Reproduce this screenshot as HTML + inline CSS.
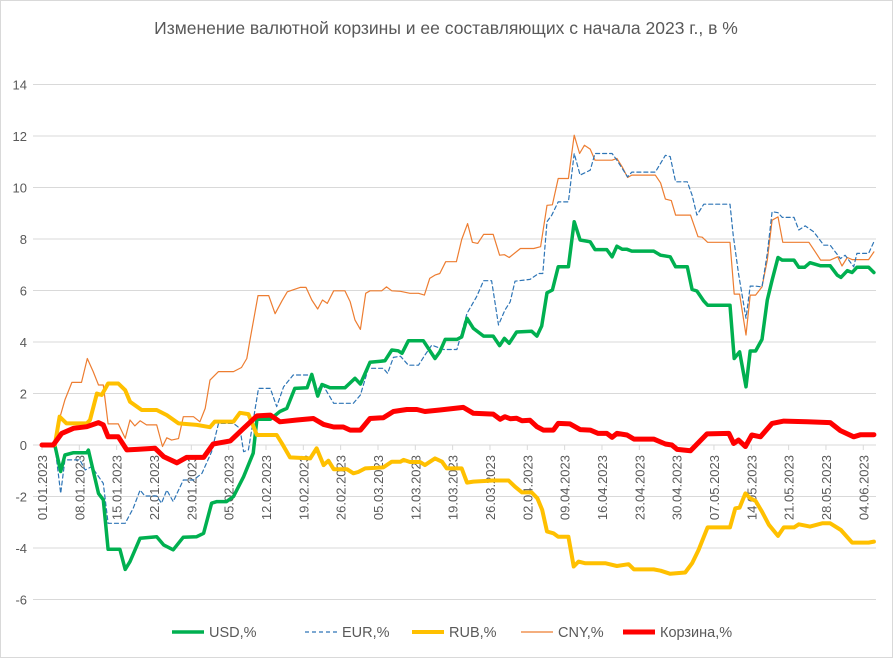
<!DOCTYPE html>
<html><head><meta charset="utf-8"><style>
html,body{margin:0;padding:0;background:#fff}
svg{display:block;font-family:"Liberation Sans","DejaVu Sans",sans-serif}
</style></head><body>
<svg id="chart" width="893" height="658" viewBox="0 0 893 658">
<rect x="0.5" y="0.5" width="892" height="657" fill="#fff" stroke="#d9d9d9"/>
<text x="446" y="34" text-anchor="middle" font-size="17.5" fill="#595959">Изменение валютной корзины и ее составляющих с начала 2023 г., в %</text>
<g id="grid"></g>
<g id="yaxis"></g>
<g id="xaxis"></g>
<g id="series"></g>
<g id="legend"></g>
</svg>
<script>
const yTicks=[14,12,10,8,6,4,2,0,-2,-4,-6];
const xTickDays=[0,7,14,21,28,35,42,49,56,63,70,77,84,91,98,105,112,119,126,133,140,147,154];
const xTickLabels=["01.01.2023","08.01.2023","15.01.2023","22.01.2023","29.01.2023","05.02.2023","12.02.2023","19.02.2023","26.02.2023","05.03.2023","12.03.2023","19.03.2023","26.03.2023","02.04.2023","09.04.2023","16.04.2023","23.04.2023","30.04.2023","07.05.2023","14.05.2023","21.05.2023","28.05.2023","04.06.2023"];

const usdDays=[0,2.4,3.5,4.3,5.9,8.4,8.7,10.6,11.5,12.4,14.6,15.6,16.5,18.4,21.5,22.8,24.6,26.5,29,30.3,31.8,32.8,34.6,35.9,37.8,39.6,40.3,42.8,44.6,45.9,47.4,49.7,50.6,51.7,52.5,54,56.8,58.7,59.7,61.5,64.3,65.6,66.8,67.5,68.7,71.5,73.7,74.6,75.6,77.8,78.7,79.7,80.9,82.8,84.6,85.8,86.7,87.6,89,91.8,92.8,93.7,94.7,95.7,96.8,98.7,99.8,100.9,102.8,103.7,105.9,106.9,107.8,108.8,109.7,110.6,114.7,116,117.8,118.8,121,121.9,122.8,124.1,124.8,129,129.8,130.8,132,132.8,133.8,135,136,136.9,138,138.8,141,141.9,143,144,146,147.8,149.1,149.8,151,151.9,152.8,155,156];
const usdVals=[0,0,-1.03,-0.39,-0.3,-0.3,-0.2,-1.88,-2.13,-4.05,-4.05,-4.83,-4.53,-3.62,-3.56,-3.88,-4.07,-3.58,-3.56,-3.43,-2.26,-2.2,-2.2,-2,-1.23,-0.32,1.0,1.0,1.3,1.42,2.2,2.22,2.74,1.9,2.35,2.22,2.22,2.59,2.37,3.21,3.27,3.69,3.66,3.56,4.05,4.05,3.36,3.62,4.1,4.1,4.2,4.92,4.53,4.23,4.23,3.86,4.14,3.95,4.39,4.42,4.23,4.62,5.91,6.02,6.92,6.92,8.67,7.96,7.89,7.59,7.59,7.31,7.72,7.6,7.6,7.53,7.53,7.37,7.31,6.92,6.92,6.04,5.98,5.59,5.43,5.43,3.36,3.62,2.26,3.65,3.65,4.1,5.63,6.4,7.28,7.18,7.18,6.9,6.9,7.08,6.96,6.96,6.6,6.51,6.77,6.7,6.9,6.9,6.7];

const eurDays=[0,2.4,3.5,4.3,5.6,7.1,8.1,9.3,11.5,12.4,15.6,17.1,18.4,19.3,21.5,22.4,23.4,24.6,26.5,28.4,30,31.8,33.1,35.9,37.1,37.8,38.7,40.6,42.8,44,45.3,47.1,50.3,51.5,52.5,54.7,58.4,59.7,61.2,64,64.8,65.9,67.2,68.7,70.6,71.8,73.1,75.3,77.8,79.7,81.5,82.8,84.3,85.6,86.8,87.8,88.7,91.5,93.1,93.9,94.7,95.6,96.8,98.7,99.8,100.9,102.8,103.7,106.9,107.8,109.8,110.6,115,116.9,117.8,118.8,121,121.9,122.8,124.1,129,129.6,130.6,132,132.8,133.8,135,136,136.9,138,138.8,141,141.9,143.1,144.7,146.6,147.8,149.7,150.6,152.2,152.8,155,156];
const eurVals=[0,0,-1.88,-0.58,-0.58,-0.58,-0.97,-0.84,-1.49,-3.04,-3.04,-2.46,-1.75,-1.98,-1.98,-2.26,-1.75,-2.2,-1.36,-1.36,-1.1,-0.26,0.84,0.84,0.65,-0.26,-0.19,2.2,2.2,1.49,2.26,2.72,2.72,2.07,2.39,1.62,1.62,1.94,2.98,2.98,2.78,3.4,3.45,3.1,3.1,3.49,3.88,3.71,3.71,5.11,5.76,6.38,6.38,4.66,5.24,5.56,6.36,6.43,6.66,6.66,8.67,8.93,9.44,9.44,11.32,10.48,10.67,11.32,11.32,11.06,10.41,10.6,10.6,11.25,11.2,10.22,10.22,9.7,8.93,9.35,9.35,8.15,6.66,4.92,6.17,6.17,6.14,7.44,9.06,9.02,8.84,8.84,8.35,8.51,8.28,7.76,7.76,7.24,7.37,6.92,7.44,7.44,7.89];

const rubDays=[0,2.4,3.3,4.6,8.4,9,10.3,11.2,12.4,14.3,15.6,16.5,18.7,21.5,23.4,25.6,29,31.5,32.4,35.9,37.1,38.7,40.3,44,45,46.5,50.3,51.5,52.8,53.7,54.7,57.2,58.4,59.3,60.6,64,65.6,67.2,67.8,69,70.9,71.8,73.7,75,75.9,78.7,79.7,80.9,84.6,87.5,88.7,90,91.8,92.9,93.8,94.7,95.9,96.8,98.7,99.7,100.6,101.8,105.6,107.8,110,111,114.7,116,117.8,120.6,121.9,123.1,124.8,129,130,130.8,131.9,132.8,133.8,135,136.3,138,139.1,141,141.9,144,146.3,147.8,149.8,151.9,155,156];
const rubVals=[0,0,1.1,0.84,0.84,0.97,2.0,1.94,2.39,2.39,2.13,1.68,1.36,1.36,1.16,0.84,0.78,0.69,0.91,0.91,1.25,1.2,0.39,0.39,0.06,-0.48,-0.52,-0.13,-0.78,-0.61,-0.94,-0.94,-1.1,-1.05,-0.91,-0.87,-0.65,-0.65,-0.58,-0.66,-0.66,-0.78,-0.52,-0.65,-0.91,-0.91,-1.46,-1.42,-1.38,-1.38,-1.62,-1.84,-1.84,-2.07,-2.52,-3.36,-3.43,-3.56,-3.56,-4.72,-4.53,-4.59,-4.59,-4.7,-4.63,-4.83,-4.83,-4.88,-5.0,-4.95,-4.59,-4.08,-3.2,-3.2,-2.46,-2.43,-1.88,-2.07,-2.17,-2.59,-3.1,-3.53,-3.2,-3.2,-3.08,-3.17,-3.04,-3.04,-3.3,-3.79,-3.79,-3.75];

const cnyDays=[0,2.4,3.4,4.3,5.6,7.4,8.5,9.6,10.6,11.5,12.4,14.3,15.6,16.5,17.4,18.4,19.6,21.5,22.6,23.4,24.3,25.6,26.5,28.4,29.6,30.6,31.5,33.1,35.9,37.4,38.4,39,40.5,42.5,43.7,45,46,48.4,49.5,50.6,51.7,52.6,53.5,54.7,56.8,57.8,58.7,59.7,60.7,61.5,63.7,64.6,65.6,67.2,69,70.6,71.7,72.7,73.7,74.6,75.7,77.7,78.7,79.8,80.7,81.7,82.8,84.6,85.8,86.7,87.6,89.7,92.2,93.5,94.7,95.7,96.8,98.7,99.8,100.8,101.7,102.8,103.7,106.9,107.8,108.8,109.8,110.6,115,116,116.9,118,118.8,121.6,123,123.8,124.8,129,129.8,130.8,132,132.8,133.8,135,136,136.9,138,138.9,143.8,145,146,147.8,149.2,150,151,151.9,155,156];
const cnyVals=[0,0,1.1,1.75,2.43,2.43,3.36,2.85,2.33,2.33,0.82,0.82,0.26,0.97,0.74,0.94,0.78,0.78,-0.06,0.28,0.19,0.25,1.1,1.1,0.9,1.42,2.52,2.85,2.85,3.01,3.36,4.08,5.8,5.8,5.1,5.6,5.95,6.12,6.12,5.63,5.28,5.63,5.5,5.99,5.99,5.56,4.85,4.49,5.89,5.99,5.99,6.14,5.99,5.97,5.89,5.89,5.82,6.47,6.6,6.66,7.12,7.12,7.98,8.6,7.87,7.83,8.18,8.18,7.37,7.39,7.28,7.63,7.63,7.7,9.31,9.33,10.35,10.35,12.03,11.32,11.64,11.49,11.06,11.06,11.13,10.8,10.39,10.48,10.48,10.18,9.55,9.49,8.93,8.93,8.09,8.07,7.87,7.87,5.86,5.86,4.27,5.82,5.82,6.14,7.18,8.73,8.86,7.87,7.87,7.5,7.18,7.18,7.31,6.95,7.28,7.2,7.2,7.5];

const basketDays=[0,2.1,3.7,5.9,8.4,10.6,11.5,12.4,14.3,15.9,17.8,21.2,22.8,25.3,27.1,30.3,32.1,35.3,37.8,40.3,42.8,44.6,47.8,50.9,52.8,54.7,56.5,57.8,59.7,61.5,64,65.9,68.4,70.3,71.8,74.6,79,80.9,84.6,85.9,86.8,87.8,89,90,91.5,92.8,94,95.9,96.8,99,100.9,102.8,104.3,105.9,106.9,107.8,109.7,111,114.7,116.9,118.1,119.1,121.6,124.7,128.8,129.7,130.6,131.9,133.1,134.7,136.9,139.1,143.5,147.8,149.7,152.2,153.5,156];
const basketVals=[0,0,0.45,0.65,0.71,0.87,0.78,0.32,0.32,-0.19,-0.17,-0.13,-0.45,-0.69,-0.48,-0.48,0.04,0.16,0.65,1.13,1.16,0.9,0.97,1.03,0.8,0.7,0.7,0.58,0.58,1.03,1.06,1.3,1.38,1.38,1.3,1.36,1.46,1.23,1.2,1.0,1.1,1.02,1.04,0.94,0.96,0.71,0.58,0.58,0.84,0.82,0.6,0.58,0.45,0.45,0.3,0.45,0.39,0.23,0.23,0.04,0,-0.17,-0.22,0.43,0.45,0.06,0.19,-0.06,0.39,0.32,0.84,0.93,0.9,0.87,0.56,0.32,0.4,0.4];

const NS="http://www.w3.org/2000/svg";
const X0=42,PX_PER_DAY=5.333,Y0=445,PX_PER_UNIT=25.75;
function xScale(d){return X0+d*PX_PER_DAY;}
function yScale(v){return Y0-v*PX_PER_UNIT;}
function mk(tag,attrs,parent){const e=document.createElementNS(NS,tag);for(const k in attrs)e.setAttribute(k,attrs[k]);parent.appendChild(e);return e;}

const grid=document.getElementById('grid'),yax=document.getElementById('yaxis'),xax=document.getElementById('xaxis'),ser=document.getElementById('series'),leg=document.getElementById('legend');
yTicks.forEach(v=>{
  const y=yScale(v);
  const l=mk('line',{x1:33,x2:876,y1:y,y2:y,stroke:'#d9d9d9','stroke-width':1},grid);
  
  
  const t=mk('text',{x:27,y:y+5,'text-anchor':'end','font-size':13,fill:'#595959'},yax);
  t.textContent=v;
  
  
});
xTickDays.forEach((d,i)=>{
  const x=xScale(d);
  const tk=mk('line',{x1:x,x2:x,y1:Y0,y2:Y0+5,stroke:'#d9d9d9'},xax);
  
  
  const t=mk('text',{x:0,y:0,'text-anchor':'end','font-size':13,fill:'#595959',transform:`translate(${x+5},${Y0+10}) rotate(-90)`},xax);
  t.textContent=xTickLabels[i];
  
  
});
function drawLine(days,vals,color,w,dash,name){
  const pts=days.map((d,i)=>xScale(d).toFixed(1)+','+yScale(vals[i]).toFixed(1)).join(' ');
  const p=mk('polyline',{points:pts,fill:'none',stroke:color,'stroke-width':w,'stroke-linejoin':'round','stroke-linecap':'round'},ser);
  if(dash)p.setAttribute('stroke-dasharray',dash);
  
  
}
drawLine(cnyDays,cnyVals,'#ed7d31',1.2,null,'series-cny');
drawLine(eurDays,eurVals,'#2e75b6',1.2,'4,3','series-eur');
drawLine(usdDays,usdVals,'#00b050',3.5,null,'series-usd');
drawLine(rubDays,rubVals,'#ffc000',4,null,'series-rub');
drawLine(basketDays,basketVals,'#ff0000',5,null,'series-basket');

const legendItems=[["USD,%","#00b050",3.5,null,172],["EUR,%","#2e75b6",1.2,"4,3",305],["RUB,%","#ffc000",4,null,412],["CNY,%","#ed7d31",1.2,null,521],["Корзина,%","#ff0000",5,null,623]];
legendItems.forEach(it=>{
  const g=mk('g',{},leg);
  
  
  const l=mk('line',{x1:it[4],x2:it[4]+32,y1:632,y2:632,stroke:it[1],'stroke-width':it[2]},g);
  if(it[3])l.setAttribute('stroke-dasharray',it[3]);
  const t=mk('text',{x:it[4]+37,y:637,'font-size':14.5,fill:'#595959'},g);
  t.textContent=it[0];
});
</script>
</body></html>
